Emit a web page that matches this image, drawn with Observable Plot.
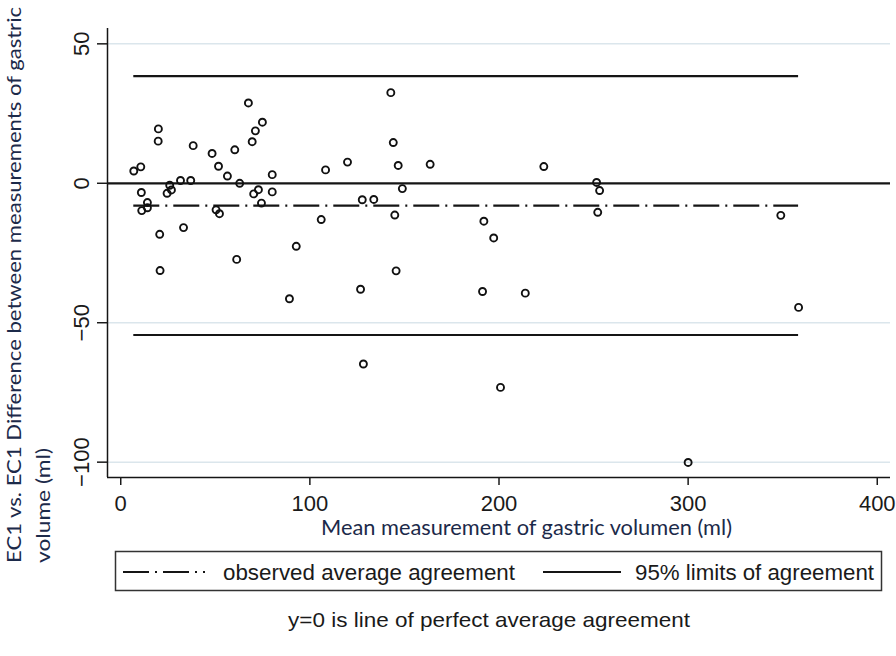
<!DOCTYPE html>
<html><head><meta charset="utf-8">
<script src="https://cdn.jsdelivr.net/npm/d3@7"></script>
<script src="https://cdn.jsdelivr.net/npm/@observablehq/plot@0.6"></script>
<style>
html,body{margin:0;padding:0;background:#fff;}
#wrap{position:relative;width:896px;height:656px;overflow:hidden;background:#fff;}
#chart{position:absolute;left:0;top:0;}
#over{position:absolute;left:0;top:0;}
</style></head><body>
<div id="wrap"><div id="chart"></div><svg id="over" width="896" height="656"></svg></div>
<script>
// Mean measurement of gastric volume (ml) for each subject
const meanVol = [6.9, 10.6, 19.9, 19.8, 10.9, 14.1, 14.1, 11.1, 20.6, 20.8,
  24.5, 25.9, 26.8, 31.6, 33.2, 37.0, 38.3, 48.3, 51.7, 50.4,
  52.2, 56.4, 60.3, 62.9, 61.3, 67.5, 69.5, 71.2, 74.9, 70.3,
  72.8, 74.4, 80.1, 80.1, 92.8, 89.2, 142.8, 144.1, 146.7, 163.6,
  119.9, 108.3, 148.9, 127.7, 133.8, 144.9, 106.0, 192.0, 197.2, 145.6,
  126.8, 191.3, 213.9, 223.7, 251.6, 253.2, 252.2, 349.0, 358.4, 200.8,
  300.0, 128.3];
// Difference between measurements (ml)
const diffVol = [4.4, 5.9, 19.5, 15.1, -3.3, -6.9, -8.8, -9.8, -18.3, -31.3,
  -3.6, -0.7, -2.4, 1.0, -15.9, 1.0, 13.5, 10.7, 6.1, -9.5,
  -10.9, 2.6, 12.0, 0.0, -27.3, 28.8, 14.9, 18.8, 21.9, -3.8,
  -2.3, -7.1, 3.1, -3.1, -22.6, -41.4, 32.5, 14.6, 6.4, 6.8,
  7.6, 4.8, -1.9, -5.9, -5.8, -11.4, -13.0, -13.6, -19.6, -31.4,
  -38.0, -38.8, -39.4, 6.0, 0.3, -2.6, -10.4, -11.5, -44.5, -73.2,
  -100.1, -64.8];
const xTicks = [0, 100, 200, 300, 400];
const yTicks = [50, 0, -50, -100];
const meanDiff = -8.0;
const limitsOfAgreement = [38.4, -54.4];
const xTitle = "Mean measurement of gastric volumen (ml)";
const yTitle = ["EC1 vs. EC1 Difference between measurements of gastric", "volume (ml)"];
const legendLabels = ["observed average agreement", "95% limits of agreement"];
const footnote = "y=0 is line of perfect average agreement";

const points = meanVol.map((m, i) => ({mean: m, diff: diffVol[i]}));
const [xMin, xMax] = d3.extent(meanVol);
const xDom = [-7, 407], yDom = [-105.5, 55.5];
const ink = "#151515";

const plot = Plot.plot({
  width: 896, height: 520,
  marginLeft: 107, marginRight: 6, marginTop: 28, marginBottom: 43,
  x: {domain: xDom}, y: {domain: yDom},
  style: {fontFamily: "'Liberation Sans', Arial, sans-serif", fontSize: "22px", color: "#1a1a1a", background: "#fff", overflow: "visible"},
  marks: [
    Plot.gridY(yTicks.filter(d => d !== 0), {stroke: "#dbe6ec", strokeOpacity: 1, strokeWidth: 1.5}),
    Plot.ruleY([0], {stroke: ink, strokeWidth: 2.2}),
    Plot.ruleY(limitsOfAgreement, {x1: xMin, x2: xMax, stroke: ink, strokeWidth: 2.2}),
    Plot.ruleY([meanDiff], {x1: xMin, x2: xMax, stroke: ink, strokeWidth: 2.2, strokeDasharray: "26,6,2,6"}),
    Plot.dot(points, {x: "mean", y: "diff", r: 3.5, stroke: "#111", strokeWidth: 1.9, fill: "none"}),
    Plot.ruleX([xDom[0]], {stroke: ink, strokeWidth: 1.5}),
    Plot.ruleY([yDom[0]], {stroke: ink, strokeWidth: 1.5}),
    Plot.axisX({ticks: xTicks, tickSize: 8, tickPadding: 10, label: null, strokeWidth: 1.5}),
    Plot.axisY({ticks: yTicks, tickSize: 10, tickRotate: -90, tickPadding: 9, label: null, strokeWidth: 1.5})
  ]
});
document.getElementById("chart").appendChild(plot);

const over = d3.select("#over");
const titleFont = "Lato, 'Open Sans', sans-serif";
const tc = "#1c2a4a";
over.append("text").attr("transform", "translate(21,563) rotate(-90)")
  .attr("font-family", titleFont).attr("font-size", 20).attr("fill", tc)
  .attr("textLength", 556).attr("lengthAdjust", "spacingAndGlyphs").text(yTitle[0]);
over.append("text").attr("transform", "translate(50,563) rotate(-90)")
  .attr("font-family", titleFont).attr("font-size", 20).attr("fill", tc)
  .attr("textLength", 115).attr("lengthAdjust", "spacingAndGlyphs").text(yTitle[1]);
over.append("text").attr("x", 321).attr("y", 535)
  .attr("font-family", titleFont).attr("font-size", 21).attr("fill", tc)
  .attr("textLength", 411).attr("lengthAdjust", "spacingAndGlyphs").text(xTitle);

const lf = "'Liberation Sans', Arial, sans-serif";
over.append("rect").attr("x", 115.5).attr("y", 551.5).attr("width", 766).attr("height", 39)
  .attr("fill", "#fff").attr("stroke", "#333").attr("stroke-width", 1.5);
over.append("line").attr("x1", 123).attr("x2", 205).attr("y1", 572).attr("y2", 572)
  .attr("stroke", ink).attr("stroke-width", 2.2).attr("stroke-dasharray", "26,6,2,6");
over.append("text").attr("x", 223).attr("y", 580).attr("font-family", lf).attr("font-size", 22)
  .attr("fill", "#1a1a1a").attr("textLength", 292).attr("lengthAdjust", "spacingAndGlyphs").text(legendLabels[0]);
over.append("line").attr("x1", 543).attr("x2", 621).attr("y1", 572).attr("y2", 572)
  .attr("stroke", ink).attr("stroke-width", 2.2);
over.append("text").attr("x", 635).attr("y", 580).attr("font-family", lf).attr("font-size", 22)
  .attr("fill", "#1a1a1a").attr("textLength", 239).attr("lengthAdjust", "spacingAndGlyphs").text(legendLabels[1]);
over.append("text").attr("x", 489).attr("y", 627).attr("text-anchor", "middle").attr("font-family", lf).attr("font-size", 21)
  .attr("fill", "#1a1a1a").attr("textLength", 402).attr("lengthAdjust", "spacingAndGlyphs").text(footnote);
</script>
</body></html>
